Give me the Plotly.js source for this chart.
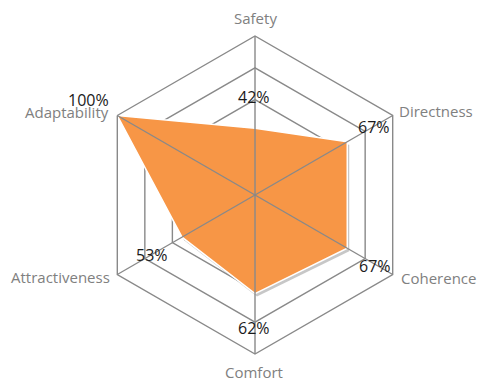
<!DOCTYPE html>
<html>
<head>
<meta charset="utf-8">
<script src="https://cdn.plot.ly/plotly-3.0.1.min.js"></script>
<style>html,body{margin:0;padding:0;background:#fff;}#chart{width:480px;height:385px;}</style>
</head>
<body>
<div id="chart"></div>
<script>
var categories = ["Safety", "Directness", "Coherence", "Comfort", "Attractiveness", "Adaptability"];
var values = [0.42, 0.67, 0.67, 0.62, 0.53, 1.00];
var gridRings = [0.2, 0.4, 0.6, 0.8, 1.0];

// layout-only pixel anchors
var valueLabelPx = [[254, 97], [374, 127], [375, 266], [254, 328], [152, 255], [88, 100]];
var axisLabelPx = [[255, 18], [436, 111], [438, 278], [254, 372], [60, 277], [67, 112]];

var W = 480, H = 385;
var M = {l: 60, r: 40, t: 10, b: 10};
var pw = W - M.l - M.r, ph = H - M.t - M.b;
function dx(px) { return (px - M.l) / pw; }
function dy(py) { return (H - M.b - py) / ph; }

// main radar square in pixels: center (255,195), radius 159
var cx = 255, cy = 195, R = 159;
function dom(ox, oy) {
  return {
    x: [dx(cx - R + ox), dx(cx + R + ox)],
    y: [dy(cy + R + oy), dy(cy - R + oy)]
  };
}

var thetaClosed = categories.concat([categories[0]]);
var rClosed = values.concat([values[0]]);

var shadow = {
  type: "scatterpolar", subplot: "polar",
  r: rClosed, theta: thetaClosed,
  mode: "lines", fill: "toself",
  fillcolor: "rgba(0,0,0,0.22)",
  line: {color: "rgba(0,0,0,0)", width: 0},
  hoverinfo: "skip"
};
var main = {
  type: "scatterpolar", subplot: "polar2",
  r: rClosed, theta: thetaClosed,
  mode: "lines", fill: "toself",
  fillcolor: "#F79646",
  line: {color: "#ffffff", width: 1.5},
  hoverinfo: "skip"
};
var spokes = {
  type: "scatterpolar", subplot: "polar3",
  r: values, theta: categories,
  mode: "markers", marker: {size: 1, opacity: 0},
  hoverinfo: "skip"
};

var gridCol = "#898989";
function baseAxes(showRings, showSpokes, showOuter) {
  return {
    bgcolor: "rgba(0,0,0,0)",
    gridshape: "linear",
    radialaxis: {
      range: [0, 1], tickvals: gridRings,
      showticklabels: false, ticks: "", showline: false,
      showgrid: showRings, gridcolor: gridCol, gridwidth: 1.4
    },
    angularaxis: {
      type: "category", direction: "clockwise", rotation: 90,
      categoryarray: categories, categoryorder: "array",
      ticks: "", showticklabels: false,
      showline: showOuter, linecolor: gridCol, linewidth: 1.4,
      showgrid: showSpokes, gridcolor: gridCol, gridwidth: 1.4
    }
  };
}

var p1 = baseAxes(false, false, false); p1.domain = dom(2, 3);
var p2 = baseAxes(true, false, true); p2.domain = dom(0, 0);
var p3 = baseAxes(false, true, false); p3.domain = dom(0, 0);

var annotations = [];
values.forEach(function (v, i) {
  annotations.push({
    xref: "paper", yref: "paper",
    x: dx(valueLabelPx[i][0]), y: dy(valueLabelPx[i][1]),
    text: Math.round(v * 100) + "%",
    showarrow: false, xanchor: "center", yanchor: "middle",
    font: {family: "Open Sans, sans-serif", size: 16, color: "#1a1a1a"}
  });
});
categories.forEach(function (c, i) {
  annotations.push({
    xref: "paper", yref: "paper",
    x: dx(axisLabelPx[i][0]), y: dy(axisLabelPx[i][1]),
    text: c,
    showarrow: false, xanchor: "center", yanchor: "middle",
    font: {family: "Open Sans, sans-serif", size: 15, color: "#808080"}
  });
});

var layout = {
  width: W, height: H, margin: M,
  paper_bgcolor: "#ffffff",
  showlegend: false,
  annotations: annotations,
  polar: p1, polar2: p2, polar3: p3
};

Plotly.newPlot("chart", [shadow, main, spokes], layout, {displayModeBar: false, staticPlot: true});
</script>
</body>
</html>
